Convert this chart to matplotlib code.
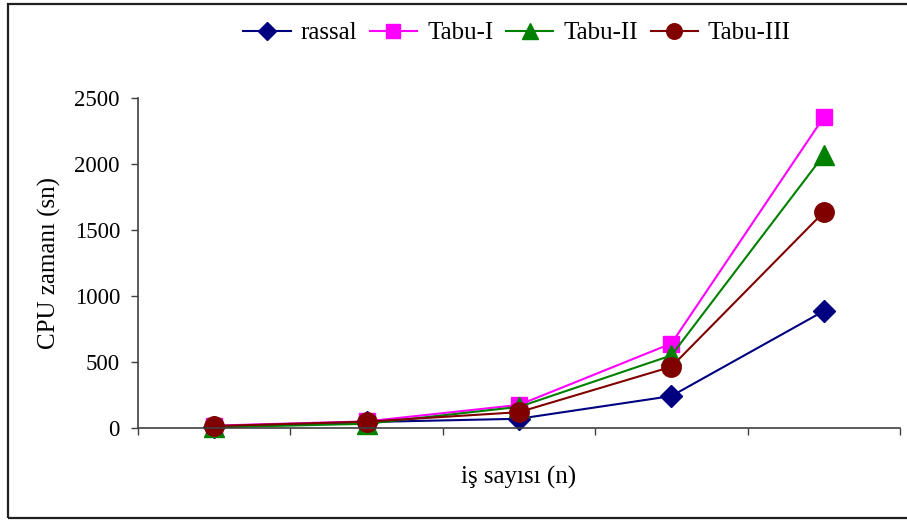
import matplotlib
matplotlib.use("Agg")
import matplotlib.pyplot as plt
from matplotlib.patches import Rectangle

# CPU time (seconds) per problem size for each method
categories = ["1", "2", "3", "4", "5"]
rassal = [10, 45, 70, 242, 886]
tabu_1 = [18, 50, 175, 640, 2355]
tabu_2 = [5, 32, 160, 550, 2068]
tabu_3 = [15, 48, 120, 464, 1636]
y_ticks = [0, 500, 1000, 1500, 2000, 2500]

plt.rcParams["font.family"] = ["Liberation Serif", "DejaVu Serif"]
FS_TICK = 16.5
FS_TEXT = 18

fig = plt.figure(figsize=(9.07, 5.2), dpi=100)
ax = fig.add_axes([138 / 907, 92 / 520, 762 / 907, 330 / 520])

x = list(range(len(categories)))
series = [
    ("rassal", rassal, "#000080", "D", 11),
    ("Tabu-I", tabu_1, "#FF00FF", "s", 12),
    ("Tabu-II", tabu_2, "#008000", "^", 14),
    ("Tabu-III", tabu_3, "#800000", "o", 14),
]
for name, vals, col, mk, ms in series:
    ax.plot(x, vals, color=col, lw=1.5, marker=mk, markersize=ms,
            markerfacecolor=col, markeredgecolor=col, label=name, clip_on=False)

ax.set_xlim(-0.5, len(categories) - 0.5)
ax.set_ylim(0, 2500)
ax.set_yticks(y_ticks)
ax.set_yticklabels([str(v) for v in y_ticks], fontsize=FS_TICK)
ax.set_xticks([i - 0.5 for i in range(len(categories) + 1)])
ax.set_xticklabels([])
ax.tick_params(axis="both", direction="out", length=5, width=1, color="#404040")
ax.tick_params(axis="y", pad=8)

for side in ("top", "right"):
    ax.spines[side].set_visible(False)
for side in ("left", "bottom"):
    ax.spines[side].set_color("#404040")
    ax.spines[side].set_linewidth(1.2)

ax.set_ylabel("CPU zamanı (sn)", fontsize=FS_TEXT, labelpad=10)
ax.set_xlabel("iş sayısı (n)", fontsize=FS_TEXT, labelpad=19)

leg = fig.legend(loc="center", bbox_to_anchor=(517 / 907, 1 - 33 / 520), ncol=4,
                 frameon=False, fontsize=FS_TEXT, handlelength=1.9, handletextpad=0.4,
                 columnspacing=0.5, markerscale=0.8)

# outer frame around the chart area
fig.patches.append(Rectangle((7.5 / 907, 2 / 520), 1.2, 514 / 520, transform=fig.transFigure,
                             fill=False, edgecolor="#202020", lw=1.6, clip_on=False))

fig.savefig("out.png", dpi=100, facecolor="white")
